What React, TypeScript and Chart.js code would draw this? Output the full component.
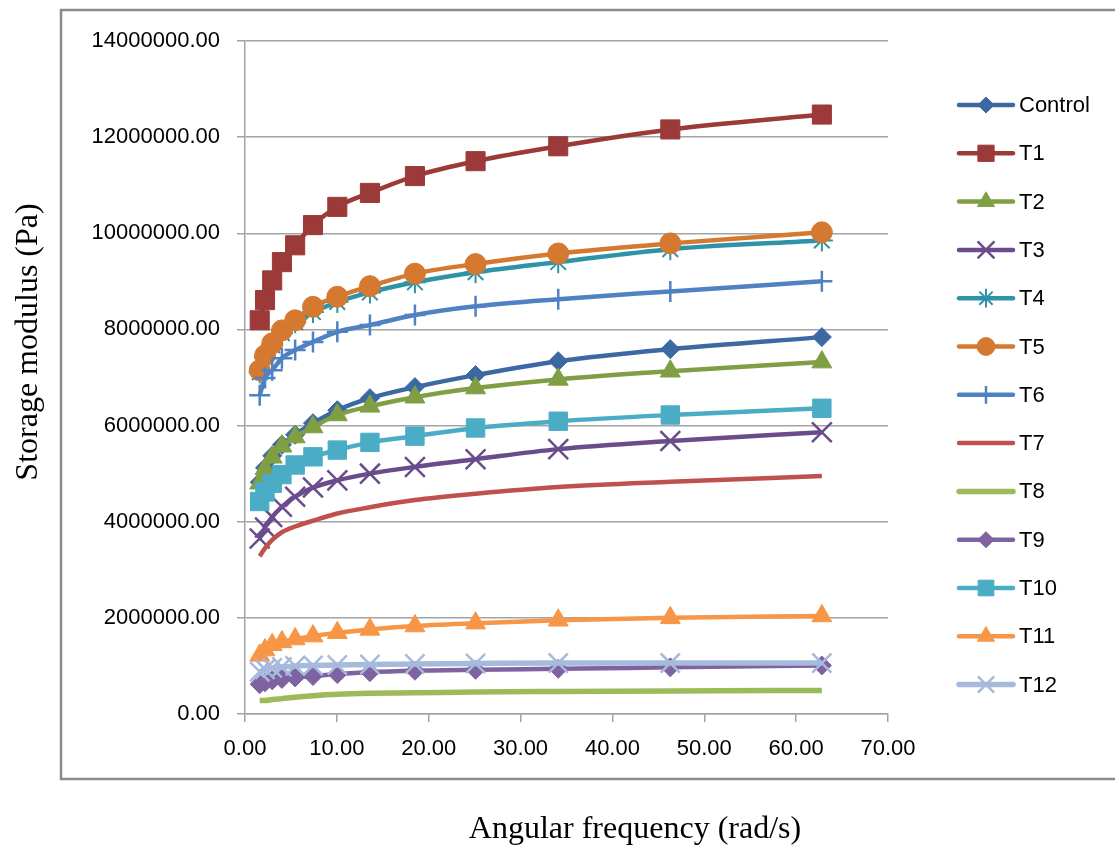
import React, { useEffect, useRef } from 'react';
import { Chart, registerables } from 'chart.js';
import { drawPoint } from 'chart.js/helpers';

Chart.register(...registerables);

// Angular frequency (rad/s)
const frequency = [1.6, 2.18, 2.96, 4.02, 5.46, 7.4, 10.05, 13.6, 18.5, 25.1, 34.1, 46.3, 62.8];

// Storage modulus (Pa)
const control = [4820000, 5120000, 5370000, 5600000, 5810000, 6050000, 6320000, 6570000, 6800000, 7050000, 7340000, 7590000, 7840000];
const t1 = [8190000, 8610000, 9020000, 9400000, 9750000, 10170000, 10550000, 10840000, 11190000, 11500000, 11810000, 12160000, 12470000];
const t2 = [4800000, 5100000, 5340000, 5570000, 5760000, 5970000, 6220000, 6400000, 6590000, 6780000, 6960000, 7130000, 7320000];
const t3 = [3650000, 3880000, 4100000, 4310000, 4520000, 4710000, 4860000, 5000000, 5140000, 5300000, 5510000, 5680000, 5860000];
const t4 = [7110000, 7420000, 7670000, 7920000, 8150000, 8360000, 8570000, 8770000, 8980000, 9190000, 9400000, 9670000, 9850000];
const t5 = [7150000, 7460000, 7710000, 7980000, 8190000, 8470000, 8680000, 8900000, 9160000, 9360000, 9580000, 9790000, 10020000];
const t6 = [6630000, 6990000, 7150000, 7400000, 7570000, 7740000, 7950000, 8090000, 8300000, 8480000, 8630000, 8790000, 9000000];
const t7 = [3280000, 3450000, 3620000, 3780000, 3900000, 4020000, 4170000, 4300000, 4450000, 4580000, 4720000, 4830000, 4950000];
const t8 = [280000, 280000, 300000, 320000, 350000, 380000, 410000, 430000, 440000, 460000, 470000, 480000, 490000];
const t9 = [620000, 660000, 700000, 730000, 760000, 790000, 830000, 870000, 900000, 920000, 940000, 970000, 1010000];
const t10 = [4420000, 4620000, 4800000, 4980000, 5180000, 5350000, 5490000, 5650000, 5780000, 5950000, 6090000, 6220000, 6360000];
const t11 = [1220000, 1330000, 1440000, 1500000, 1560000, 1620000, 1690000, 1760000, 1830000, 1890000, 1950000, 2000000, 2040000];
const t12 = [880000, 930000, 960000, 980000, 1000000, 1010000, 1020000, 1030000, 1040000, 1050000, 1060000, 1060000, 1060000];

const seriesNames = ['Control', 'T1', 'T2', 'T3', 'T4', 'T5', 'T6', 'T7', 'T8', 'T9', 'T10', 'T11', 'T12'];
const seriesValues = [control, t1, t2, t3, t4, t5, t6, t7, t8, t9, t10, t11, t12];

const xTitle = 'Angular frequency (rad/s)';
const yTitle = 'Storage modulus (Pa)';

// styles
const colors = ['#3C69A2', '#9B3A38', '#809F45', '#6A4C8C', '#2F93A8', '#D4792F', '#4F81C3', '#C0504D', '#9BBB59', '#7E62A1', '#4BACC6', '#F79646', '#A6BADB'];
const pointStyles: any[] = ['rectRot', 'rect', 'triangle', 'crossRot', 'star', 'circle', 'cross', false, false, 'rectRot', 'rect', 'triangle', 'crossRot'];
const pointRadii = [9.5, 13.5, 11.5, 14, 11, 10.5, 10.5, 0, 0, 9.5, 13, 11.5, 13.5];
const pointBorders = [1, 1, 1, 2.5, 2, 1, 2.5, 0, 0, 1, 1, 1, 2.5];
const lineWidths = [4.5, 4.5, 4.5, 4.5, 4.5, 4.5, 4.5, 4.5, 5.5, 4.5, 4.5, 4.5, 5.5];

const SANS = "'Liberation Sans', Arial, sans-serif";
const SERIF = "'Liberation Serif', 'Times New Roman', serif";
const GRID = '#a3a3a3';

const decorPlugin = {
  id: 'decor',
  afterDraw(chart: any) {
    const ctx = chart.ctx as CanvasRenderingContext2D;
    ctx.save();
    // outer frame
    ctx.strokeStyle = '#8a8a8a';
    ctx.lineWidth = 2.5;
    ctx.strokeRect(61, 10, 1070, 769);

    // axis titles
    ctx.fillStyle = '#000';
    ctx.font = `32px ${SERIF}`;
    ctx.textAlign = 'center';
    ctx.textBaseline = 'middle';
    ctx.fillText(xTitle, 635, 830);
    ctx.save();
    ctx.translate(29, 342);
    ctx.rotate(-Math.PI / 2);
    ctx.fillText(yTitle, 0, 0);
    ctx.restore();

    // legend
    const x0 = 959;
    const x1 = 1013;
    const xm = (x0 + x1) / 2;
    seriesNames.forEach((name, i) => {
      const y = 105 + i * 48.3;
      ctx.strokeStyle = colors[i];
      ctx.lineWidth = lineWidths[i];
      ctx.lineCap = 'round';
      ctx.beginPath();
      ctx.moveTo(x0, y);
      ctx.lineTo(x1, y);
      ctx.stroke();
      if (pointStyles[i]) {
        ctx.fillStyle = colors[i];
        ctx.strokeStyle = colors[i];
        ctx.lineWidth = pointBorders[i];
        ctx.lineCap = 'butt';
        drawPoint(ctx, { pointStyle: pointStyles[i], rotation: 0, radius: pointRadii[i] * 0.85, borderWidth: pointBorders[i] } as any, xm, y);
      }
      ctx.fillStyle = '#000';
      ctx.font = `22px ${SANS}`;
      ctx.textAlign = 'left';
      ctx.textBaseline = 'middle';
      ctx.fillText(name, 1019, y + 1);
    });
    ctx.restore();
  },
};

export default function App() {
  const canvasRef = useRef<HTMLCanvasElement | null>(null);

  useEffect(() => {
    if (!canvasRef.current) return;
    const datasets = seriesNames.map((name, i) => ({
      label: name,
      data: frequency.map((x, j) => ({ x, y: seriesValues[i][j] })),
      showLine: true,
      borderColor: colors[i],
      backgroundColor: colors[i],
      borderWidth: lineWidths[i],
      pointStyle: pointStyles[i],
      pointRadius: pointRadii[i],
      pointHoverRadius: pointRadii[i],
      pointBorderWidth: pointBorders[i],
      pointBorderColor: colors[i],
      pointBackgroundColor: colors[i],
      cubicInterpolationMode: 'monotone' as const,
      order: seriesNames.length - i,
    }));

    const chart = new Chart(canvasRef.current, {
      type: 'scatter',
      data: { datasets },
      options: {
        responsive: false,
        animation: false,
        devicePixelRatio: 1,
        layout: { padding: { left: 62, right: 227, top: 41, bottom: 0 } },
        plugins: { legend: { display: false }, tooltip: { enabled: false } },
        scales: {
          x: {
            type: 'linear',
            min: 0,
            max: 70,
            ticks: {
              stepSize: 10,
              autoSkip: false,
              maxRotation: 0,
              padding: 14,
              color: '#000',
              font: { family: SANS, size: 22 },
              callback: (v: any) => Number(v).toFixed(2),
            },
            grid: { drawOnChartArea: false, drawTicks: true, tickLength: 8, color: GRID, lineWidth: 1.5 },
            border: { display: true, color: GRID, width: 1.5 },
            afterFit: (s: any) => { s.height = 136; },
          },
          y: {
            type: 'linear',
            min: 0,
            max: 14000000,
            ticks: {
              stepSize: 2000000,
              padding: 17,
              color: '#000',
              font: { family: SANS, size: 22 },
              callback: (v: any) => Number(v).toFixed(2),
            },
            grid: { color: GRID, lineWidth: 1.5, tickLength: 8, drawTicks: true },
            border: { display: true, color: GRID, width: 1.5 },
            afterFit: (s: any) => { s.width = 183; },
          },
        },
      },
      plugins: [decorPlugin],
    });
    return () => chart.destroy();
  }, []);

  return (
    <div style={{ position: 'absolute', left: 0, top: 0, width: 1115, height: 850, background: '#fff' }}>
      <canvas ref={canvasRef} width={1115} height={850} style={{ display: 'block' }} />
    </div>
  );
}
